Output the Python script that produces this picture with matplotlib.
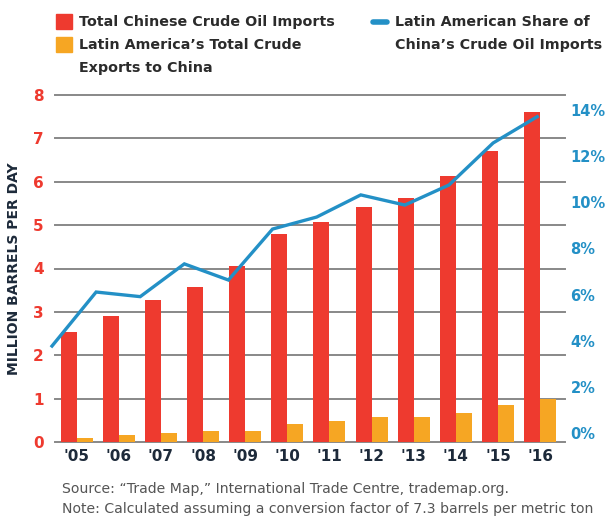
import matplotlib
matplotlib.use("Agg")
import matplotlib.pyplot as plt
from matplotlib.patches import Rectangle
from matplotlib.lines import Line2D

years = ["'05", "'06", "'07", "'08", "'09", "'10", "'11", "'12", "'13", "'14", "'15", "'16"]
china_imports = [2.53, 2.90, 3.27, 3.57, 4.06, 4.80, 5.08, 5.41, 5.63, 6.14, 6.70, 7.61]
latam_exports = [0.10, 0.17, 0.20, 0.26, 0.26, 0.42, 0.48, 0.57, 0.57, 0.67, 0.85, 1.00]
latam_share = [3.77, 6.11, 5.91, 7.33, 6.63, 8.84, 9.36, 10.32, 9.88, 10.75, 12.57, 13.71]
left_ticks = [0, 1, 2, 3, 4, 5, 6, 7, 8]
right_ticks = [0, 2, 4, 6, 8, 10, 12, 14]

RED = "#EE3A2F"
ORANGE = "#F6A623"
BLUE = "#2390C6"
GRID = "#888888"
TXT = "#2b2b2b"
FONT = ["DejaVu Sans"]
plt.rcParams["font.family"] = FONT

fig = plt.figure(figsize=(6.08, 5.17), dpi=100)
pos = [55/608, 1-442/517, (565-55)/608, (442-95)/517]
ax = fig.add_axes(pos)

x = list(range(len(years)))
w = 0.38
ax.bar([i - w/2 for i in x], china_imports, width=w, color=RED, zorder=2)
ax.bar([i + w/2 for i in x], latam_exports, width=w, color=ORANGE, zorder=2)
ax.set_xlim(-0.515, 11.59)
ax.set_ylim(0, 8)
ax.set_yticks(left_ticks)
ax.set_yticklabels([str(t) for t in left_ticks], color=RED, fontweight="bold", fontsize=11)
ax.set_xticks(x)
ax.set_xticklabels(years, color="#1d2a3a", fontweight="bold", fontsize=11)
ax.tick_params(axis="both", length=0)
ax.tick_params(axis="y", pad=8)
ax.tick_params(axis="x", pad=5)
ax.grid(axis="y", color=GRID, linewidth=1.4, zorder=0)
for gl in ax.get_ygridlines():
    gl.set_clip_on(False)
for s in ax.spines.values():
    s.set_visible(False)
ax.set_ylabel("MILLION BARRELS PER DAY", fontweight="bold", fontsize=10, color="#1d2a3a", labelpad=9)

ax2 = fig.add_axes(pos, frameon=False)
ax2.plot(x, latam_share, color=BLUE, linewidth=2.4, clip_on=False, zorder=3, solid_joinstyle="miter")
ax2.set_xlim(0.068, 11.63)
ax2.set_ylim(-0.39, 14.65)
ax2.set_xticks([])
ax2.yaxis.tick_right()
ax2.set_yticks(right_ticks)
ax2.set_yticklabels([f"{t}%" for t in right_ticks], color=BLUE, fontweight="bold", fontsize=10.5)
ax2.tick_params(axis="y", length=0, pad=4)

# legend
fig.patches.append(Rectangle((56/608, 1-29/517), 16/608, 15/517, transform=fig.transFigure, color=RED))
fig.patches.append(Rectangle((56/608, 1-52/517), 16/608, 15/517, transform=fig.transFigure, color=ORANGE))
fig.lines.append(Line2D([373/608, 387/608], [1-22/517, 1-22/517], transform=fig.transFigure,
                        color=BLUE, linewidth=4, solid_capstyle="round"))
lkw = dict(fontsize=10.3, fontweight="bold", color=TXT, va="center", ha="left")
fig.text(79/608, 1-22/517, "Total Chinese Crude Oil Imports", **lkw)
fig.text(79/608, 1-45/517, "Latin America’s Total Crude", **lkw)
fig.text(79/608, 1-68/517, "Exports to China", **lkw)
fig.text(395/608, 1-22/517, "Latin American Share of", **lkw)
fig.text(395/608, 1-45/517, "China’s Crude Oil Imports", **lkw)

nkw = dict(fontsize=10.1, color="#555555", va="center", ha="left")
fig.text(62/608, 1-489/517, "Source: “Trade Map,” International Trade Centre, trademap.org.", **nkw)
fig.text(62/608, 1-509/517, "Note: Calculated assuming a conversion factor of 7.3 barrels per metric ton", **nkw)

fig.savefig("out.png", dpi=100)
